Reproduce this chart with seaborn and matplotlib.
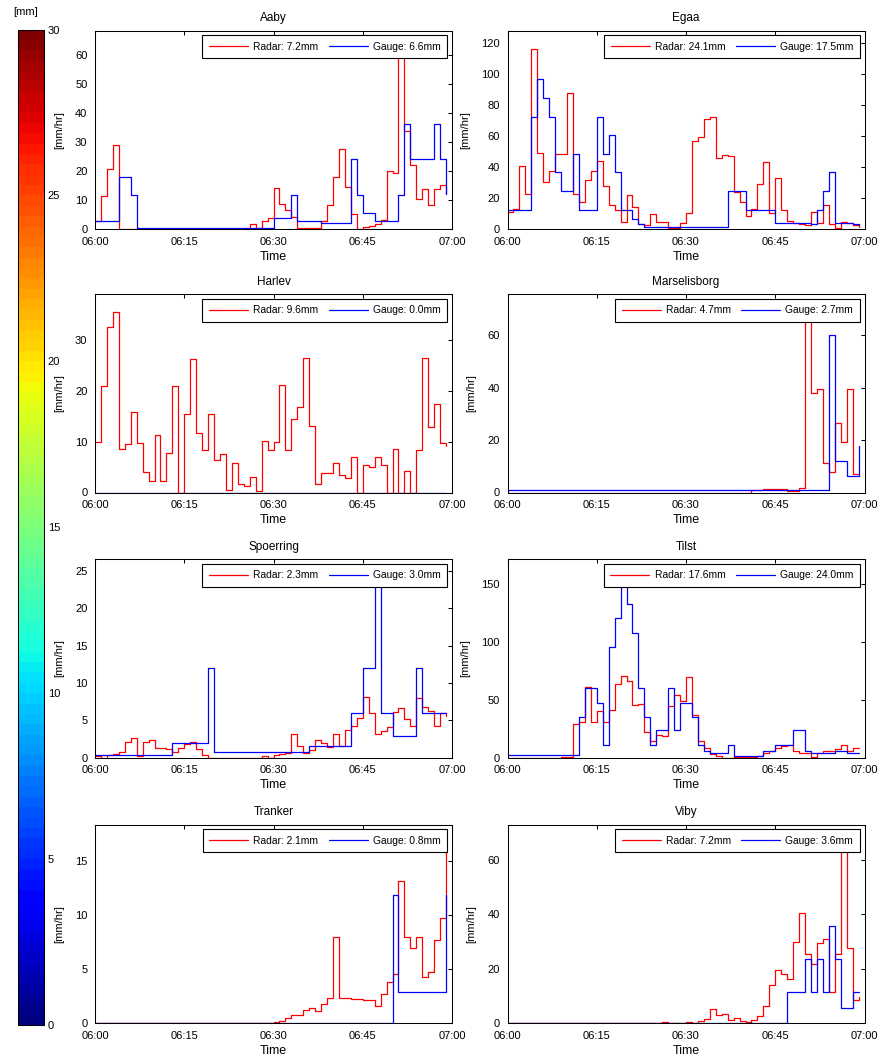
import numpy as np
import pandas as pd
import matplotlib
matplotlib.use("Agg")
import matplotlib.pyplot as plt
import seaborn as sns
from matplotlib.lines import Line2D
from matplotlib.colors import ListedColormap, Normalize
from matplotlib.cm import ScalarMappable

# ---------------- data ----------------
stations = ["Aaby", "Egaa", "Harlev", "Marselisborg", "Spoerring", "Tilst", "Tranker", "Viby"]
radar_totals = [7.2, 24.1, 9.6, 4.7, 2.3, 17.6, 2.1, 7.2]
gauge_totals = [6.6, 17.5, 0.0, 2.7, 3.0, 24.0, 0.8, 3.6]
minutes = list(range(60))
time_ticks = [0, 15, 30, 45, 60]
time_tick_labels = ["06:00", "06:15", "06:30", "06:45", "07:00"]
ytick_steps = [10, 20, 10, 20, 5, 50, 5, 20]
colorbar_ticks = [0, 5, 10, 15, 20, 25, 30]

aaby_radar = [2.6, 11.5, 20.7, 29.0, 0.0, 0.0, 0.0, 0.0, 0.0, 0.0,
              0.0, 0.0, 0.0, 0.0, 0.0, 0.0, 0.0, 0.0, 0.0, 0.0,
              0.0, 0.0, 0.0, 0.0, 0.0, 0.5, 1.9, 0.5, 2.6, 3.8,
              14.2, 8.8, 6.5, 4.0, 0.5, 0.2, 0.5, 0.5, 2.6, 8.4,
              18.1, 27.7, 14.6, 5.1, 0.0, 0.8, 1.1, 1.7, 3.1, 19.9,
              19.2, 62.4, 33.8, 22.1, 10.3, 13.8, 8.3, 13.8, 15.3, 12.1]
aaby_gauge = [2.6, 2.6, 2.6, 2.6, 18.1, 18.1, 11.9, 0.3, 0.3, 0.3,
              0.3, 0.3, 0.3, 0.3, 0.3, 0.3, 0.3, 0.3, 0.3, 0.3,
              0.3, 0.3, 0.3, 0.3, 0.3, 0.3, 0.3, 0.3, 0.3, 0.3,
              3.8, 3.8, 3.8, 11.9, 2.6, 2.6, 2.6, 2.6, 2.0, 2.0,
              2.0, 2.0, 2.0, 24.2, 11.9, 5.7, 5.7, 2.6, 2.6, 2.6,
              2.6, 11.9, 36.3, 24.2, 24.2, 24.2, 24.2, 36.3, 24.2, 12.1]

egaa_radar = [10.9, 12.6, 40.4, 22.7, 116.4, 49.0, 30.6, 37.6, 48.3, 48.3,
              87.5, 22.7, 17.3, 31.9, 37.6, 44.1, 28.0, 15.8, 12.4, 4.5,
              22.2, 14.1, 3.4, 2.8, 9.8, 4.5, 4.5, 0.5, 0.5, 3.9,
              10.3, 56.9, 59.5, 71.0, 72.3, 45.8, 47.7, 46.8, 23.7, 17.3,
              8.1, 13.0, 29.1, 43.4, 10.3, 32.9, 12.0, 4.9, 3.9, 3.4,
              2.8, 10.9, 4.1, 15.6, 3.4, 0.9, 4.5, 3.9, 2.4, 1.5]
egaa_gauge = [12.4, 12.4, 12.4, 12.4, 72.5, 96.5, 84.7, 72.5, 36.6, 24.4,
              24.4, 48.3, 12.4, 12.4, 12.4, 72.5, 48.3, 60.5, 36.6, 12.4,
              12.4, 6.2, 3.4, 1.0, 1.0, 1.0, 1.0, 1.0, 1.0, 1.0,
              1.0, 1.0, 1.0, 1.0, 1.0, 1.0, 1.0, 24.2, 24.2, 24.2,
              12.4, 12.4, 12.4, 12.4, 12.4, 4.1, 4.1, 4.1, 4.1, 4.1,
              4.1, 3.0, 12.4, 24.4, 36.6, 4.1, 4.1, 4.1, 3.0, 2.5]

harlev_radar = [9.9, 21.0, 32.5, 35.5, 8.6, 9.5, 15.9, 9.7, 4.1, 2.2,
                11.4, 2.3, 7.7, 21.0, 0.0, 15.4, 26.3, 11.8, 8.4, 15.4,
                6.4, 7.5, 0.5, 5.9, 1.6, 1.3, 3.0, 0.3, 10.1, 8.4,
                9.9, 21.2, 8.4, 14.5, 16.9, 26.4, 13.0, 1.6, 3.8, 3.9,
                5.9, 3.4, 2.9, 7.0, 0.0, 5.5, 5.1, 6.9, 5.4, 0.0,
                8.5, 0.0, 4.2, 0.0, 8.4, 26.4, 12.8, 17.4, 9.7, 9.1]
harlev_gauge = [0.0, 0.0, 0.0, 0.0, 0.0, 0.0, 0.0, 0.0, 0.0, 0.0,
                0.0, 0.0, 0.0, 0.0, 0.0, 0.0, 0.0, 0.0, 0.0, 0.0,
                0.0, 0.0, 0.0, 0.0, 0.0, 0.0, 0.0, 0.0, 0.0, 0.0,
                0.0, 0.0, 0.0, 0.0, 0.0, 0.0, 0.0, 0.0, 0.0, 0.0,
                0.0, 0.0, 0.0, 0.0, 0.0, 0.0, 0.0, 0.0, 0.0, 0.0,
                0.0, 0.0, 0.0, 0.0, 0.0, 0.0, 0.0, 0.0, 0.0, 0.0]

marsel_radar = [0.0, 0.0, 0.0, 0.0, 0.0, 0.0, 0.0, 0.0, 0.0, 0.0,
                0.0, 0.0, 0.0, 0.0, 0.0, 0.0, 0.0, 0.0, 0.0, 0.0,
                0.0, 0.0, 0.0, 0.0, 0.0, 0.0, 0.0, 0.0, 0.0, 0.0,
                0.0, 0.0, 0.0, 0.0, 0.0, 0.0, 0.0, 0.0, 0.0, 0.0,
                0.0, 0.8, 0.8, 1.4, 1.4, 1.4, 1.4, 0.6, 0.6, 1.7,
                68.9, 37.9, 39.5, 11.3, 7.8, 26.7, 19.4, 39.6, 6.9, 6.9]
marsel_gauge = [1.0, 1.0, 1.0, 1.0, 1.0, 1.0, 1.0, 1.0, 1.0, 1.0,
                1.0, 1.0, 1.0, 1.0, 1.0, 1.0, 1.0, 1.0, 1.0, 1.0,
                1.0, 1.0, 1.0, 1.0, 1.0, 1.0, 1.0, 1.0, 1.0, 1.0,
                1.0, 1.0, 1.0, 1.0, 1.0, 1.0, 1.0, 1.0, 1.0, 1.0,
                1.0, 1.0, 1.0, 1.0, 1.0, 1.0, 1.0, 1.0, 1.0, 1.0,
                1.0, 1.0, 1.0, 1.0, 60.0, 12.1, 12.1, 6.2, 6.2, 17.7]

spoer_radar = [0.2, 0.0, 0.3, 0.5, 0.7, 2.1, 2.6, 0.2, 2.1, 2.3,
               1.3, 1.3, 1.2, 0.7, 1.3, 1.8, 2.1, 1.1, 0.3, 0.0,
               0.0, 0.0, 0.0, 0.0, 0.0, 0.0, 0.0, 0.0, 0.2, 0.0,
               0.3, 0.5, 0.6, 3.1, 1.6, 0.6, 1.0, 2.4, 1.9, 1.4,
               3.1, 1.6, 3.7, 4.2, 5.3, 8.1, 6.0, 3.1, 3.6, 4.1,
               6.1, 6.6, 5.1, 4.2, 8.0, 6.8, 6.3, 4.2, 6.0, 5.5]
spoer_gauge = [0.3, 0.3, 0.3, 0.3, 0.3, 0.3, 0.3, 0.3, 0.3, 0.3,
               0.3, 0.3, 0.3, 1.9, 1.9, 1.9, 1.9, 1.9, 1.9, 12.0,
               0.7, 0.7, 0.7, 0.7, 0.7, 0.7, 0.7, 0.7, 0.7, 0.7,
               0.7, 0.7, 0.7, 0.7, 0.7, 0.7, 1.6, 1.6, 1.6, 1.6,
               1.6, 1.6, 1.6, 6.0, 6.0, 12.0, 12.0, 24.2, 6.0, 6.0,
               2.9, 2.9, 2.9, 2.9, 12.0, 6.0, 6.0, 6.0, 6.0, 6.0]

tilst_radar = [0.0, 0.0, 0.0, 0.0, 0.0, 0.0, 0.0, 0.0, 0.0, 0.6,
               0.6, 29.0, 30.4, 60.9, 30.4, 40.6, 31.0, 41.2, 63.8, 70.4,
               65.8, 45.5, 46.4, 22.3, 14.5, 19.7, 18.3, 44.9, 54.2, 48.7,
               69.6, 36.8, 14.5, 8.1, 2.9, 1.4, 0.0, 0.0, 0.6, 0.6,
               0.6, 0.6, 1.4, 3.5, 5.8, 8.1, 10.1, 10.7, 5.8, 3.5,
               3.5, 0.6, 3.5, 5.8, 5.8, 7.2, 10.7, 5.8, 7.8, 7.8]
tilst_gauge = [2.0, 2.0, 2.0, 2.0, 2.0, 2.0, 2.0, 2.0, 2.0, 2.0,
               2.0, 2.0, 34.8, 60.0, 60.0, 47.2, 10.7, 95.7, 120.3, 156.0,
               132.8, 107.8, 60.0, 34.8, 10.7, 23.8, 23.8, 60.0, 23.8, 47.2,
               47.2, 34.8, 10.7, 5.8, 3.5, 3.5, 3.5, 10.7, 1.4, 1.4,
               1.4, 1.4, 1.4, 5.8, 5.8, 10.7, 10.7, 10.7, 23.8, 23.8,
               5.8, 3.5, 3.5, 3.5, 3.5, 5.8, 5.8, 3.5, 3.5, 3.5]

tranker_radar = [0.0, 0.0, 0.0, 0.0, 0.0, 0.0, 0.0, 0.0, 0.0, 0.0,
                 0.0, 0.0, 0.0, 0.0, 0.0, 0.0, 0.0, 0.0, 0.0, 0.0,
                 0.0, 0.0, 0.0, 0.0, 0.0, 0.0, 0.0, 0.0, 0.0, 0.0,
                 0.1, 0.2, 0.5, 0.7, 0.7, 1.2, 1.4, 1.1, 1.8, 2.3,
                 8.0, 2.3, 2.3, 2.2, 2.2, 2.1, 2.1, 1.6, 2.7, 3.8,
                 4.5, 13.1, 8.0, 6.9, 8.0, 4.3, 4.7, 7.7, 9.7, 16.7]
tranker_gauge = [0.0, 0.0, 0.0, 0.0, 0.0, 0.0, 0.0, 0.0, 0.0, 0.0,
                 0.0, 0.0, 0.0, 0.0, 0.0, 0.0, 0.0, 0.0, 0.0, 0.0,
                 0.0, 0.0, 0.0, 0.0, 0.0, 0.0, 0.0, 0.0, 0.0, 0.0,
                 0.0, 0.0, 0.0, 0.0, 0.0, 0.0, 0.0, 0.0, 0.0, 0.0,
                 0.0, 0.0, 0.0, 0.0, 0.0, 0.0, 0.0, 0.0, 0.0, 0.0,
                 11.8, 2.9, 2.9, 2.9, 2.9, 2.9, 2.9, 2.9, 2.9, 11.8]

viby_radar = [0.0, 0.0, 0.0, 0.0, 0.0, 0.0, 0.0, 0.0, 0.0, 0.0,
              0.0, 0.0, 0.0, 0.0, 0.0, 0.0, 0.0, 0.0, 0.0, 0.0,
              0.0, 0.0, 0.0, 0.0, 0.0, 0.0, 0.5, 0.0, 0.0, 0.0,
              0.5, 0.0, 0.7, 1.3, 5.2, 2.8, 3.4, 1.0, 1.9, 0.7,
              0.5, 1.0, 2.6, 6.4, 14.1, 19.6, 18.0, 16.3, 29.9, 40.5,
              25.3, 21.7, 29.6, 30.9, 11.4, 25.3, 66.4, 27.7, 8.6, 9.5]
viby_gauge = [0.0, 0.0, 0.0, 0.0, 0.0, 0.0, 0.0, 0.0, 0.0, 0.0,
              0.0, 0.0, 0.0, 0.0, 0.0, 0.0, 0.0, 0.0, 0.0, 0.0,
              0.0, 0.0, 0.0, 0.0, 0.0, 0.0, 0.0, 0.0, 0.0, 0.0,
              0.0, 0.0, 0.0, 0.0, 0.0, 0.0, 0.0, 0.0, 0.0, 0.0,
              0.0, 0.0, 0.0, 0.0, 0.0, 0.0, 0.0, 11.4, 11.4, 11.4,
              23.5, 11.4, 23.5, 11.4, 35.6, 23.5, 5.4, 5.4, 11.4, 11.4]

radar_series = [aaby_radar, egaa_radar, harlev_radar, marsel_radar,
                spoer_radar, tilst_radar, tranker_radar, viby_radar]
gauge_series = [aaby_gauge, egaa_gauge, harlev_gauge, marsel_gauge,
                spoer_gauge, tilst_gauge, tranker_gauge, viby_gauge]

# ---------------- style ----------------
sns.set_theme(style="white")
plt.rcParams['font.family'] = ['Liberation Sans', 'DejaVu Sans']
plt.rcParams.update({
    "axes.edgecolor": "black",
    "axes.linewidth": 0.75,
    "xtick.color": "black",
    "ytick.color": "black",
    "text.color": "black",
    "axes.labelcolor": "black",
})

W, H = 885, 1061
fig = plt.figure(figsize=(W / 100, H / 100), dpi=100)
fig.patch.set_facecolor("white")

col_left = [95, 507.5]
ax_w = 357
row_top = [30.5, 294, 559, 824.5]
ax_h = 198.5

lw = 0.9
for i, name in enumerate(stations):
    r, c = divmod(i, 2)
    rect = [col_left[c] / W, 1 - (row_top[r] + ax_h) / H, ax_w / W, ax_h / H]
    ax = fig.add_axes(rect)
    df = pd.DataFrame({"minute": minutes, "Radar": radar_series[i], "Gauge": gauge_series[i]})
    sns.lineplot(data=df, x="minute", y="Radar", color="#ff0000", drawstyle="steps-post",
                 lw=lw, ax=ax, errorbar=None, legend=False)
    sns.lineplot(data=df, x="minute", y="Gauge", color="#0000ff", drawstyle="steps-post",
                 lw=lw, ax=ax, errorbar=None, legend=False)
    ymax = 1.1 * max(max(radar_series[i]), max(gauge_series[i]))
    ax.set_xlim(0, 60)
    ax.set_ylim(0, ymax)
    ax.set_xticks(time_ticks)
    ax.set_xticklabels(time_tick_labels)
    step = ytick_steps[i]
    ax.set_yticks(np.arange(0, ymax, step))
    ax.tick_params(axis="both", which="both", direction="in", length=3, width=0.75,
                   top=True, right=True, labelsize=8)
    ax.tick_params(axis="x", pad=5.5)
    ax.tick_params(axis="y", pad=5.5)
    for s in ax.spines.values():
        s.set_visible(True)
        s.set_linewidth(0.75)
        s.set_color("black")
    ax.set_title(name, fontsize=8.5, pad=6.5)
    ax.set_xlabel("Time", fontsize=9, labelpad=3)
    ax.set_ylabel("[mm/hr]", fontsize=8, labelpad=8)
    ax.grid(False)
    handles = [Line2D([], [], color="#ff0000", lw=lw), Line2D([], [], color="#0000ff", lw=lw)]
    labels = [f"Radar: {radar_totals[i]:.1f}mm", f"Gauge: {gauge_totals[i]:.1f}mm"]
    leg = ax.legend(handles, labels, loc="upper right", ncol=2, fontsize=7.4,
                    frameon=True, fancybox=False, framealpha=1, edgecolor="black",
                    handlelength=3.8, handletextpad=0.5, columnspacing=1.0,
                    borderpad=0.65, borderaxespad=0.45)
    leg.get_frame().set_linewidth(0.8)

# ---------------- colour bar ----------------
cax = fig.add_axes([17.5 / W, 1 - 1025 / H, 26 / W, (1025 - 29.5) / H])
cmap = ListedColormap(plt.get_cmap("jet")(np.linspace(0, 1, 96)))
cb = fig.colorbar(ScalarMappable(norm=Normalize(0, 30), cmap=cmap), cax=cax)
cb.set_ticks(colorbar_ticks)
cb.outline.set_linewidth(0.75)
cb.outline.set_edgecolor("black")
cax.tick_params(axis="y", direction="in", left=True, right=True, labelleft=False,
                labelright=True, length=7, width=0.75, color="black", labelsize=8, pad=3)
fig.text(13 / W, 1 - 12 / H, "[mm]", fontsize=8, ha="left", va="center")

fig.savefig("out.png", dpi=100, facecolor="white")
